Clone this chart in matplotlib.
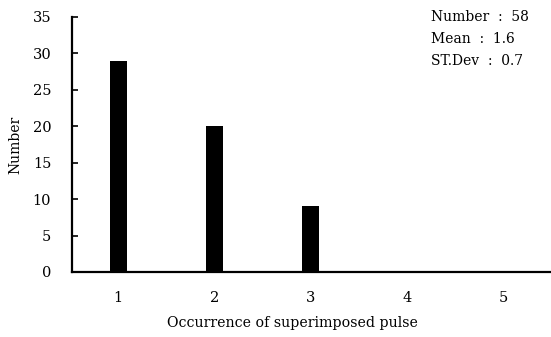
import matplotlib
matplotlib.use("Agg")
import matplotlib.pyplot as plt

# data
occurrence = [1, 2, 3, 4, 5]
counts = [29, 20, 9, 0, 0]
y_ticks = [0, 5, 10, 15, 20, 25, 30, 35]
stats_lines = ["Number  :  58", "Mean  :  1.6", "ST.Dev  :  0.7"]

plt.rcParams['font.family'] = ['DejaVu Serif']

fig = plt.figure(figsize=(5.51, 3.37), dpi=100)
ax = fig.add_axes([0.1307, 0.193, 0.8693, 0.757])

ax.bar(occurrence, counts, width=0.18, color='black')

ax.set_xlim(0.52, 5.5)
ax.set_ylim(0, 35)
ax.set_yticks(y_ticks)
ax.set_xticks(occurrence)

ax.spines['top'].set_visible(False)
ax.spines['right'].set_visible(False)
ax.spines['left'].set_linewidth(1.6)
ax.spines['bottom'].set_linewidth(1.6)

ax.tick_params(axis='y', direction='in', length=4, width=1.2, pad=15, labelsize=10.5)
ax.tick_params(axis='x', length=0, pad=14, labelsize=10.5)

ax.set_ylabel("Number", fontsize=10)
ax.yaxis.set_label_coords(-0.104, 0.5)
ax.set_xlabel("Occurrence of superimposed pulse", fontsize=10.2)
ax.xaxis.set_label_coords(0.46, -0.172)

for i, line in enumerate(stats_lines):
    fig.text(0.783, 0.95 - i * 0.066, line, fontsize=10, ha='left', va='center')

fig.savefig("out.png", dpi=100)
